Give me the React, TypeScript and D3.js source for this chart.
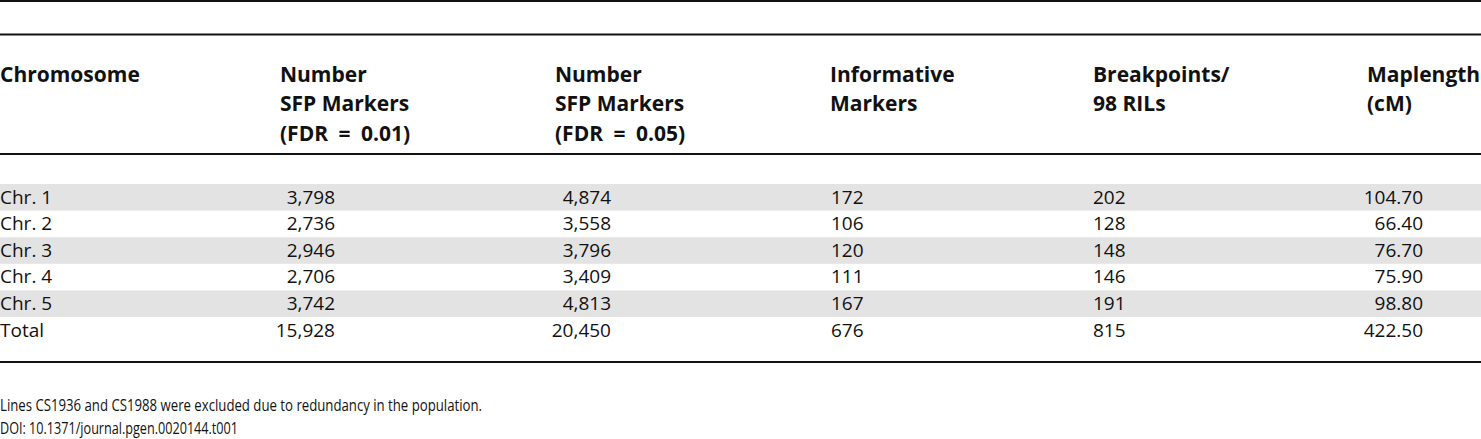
import { useEffect, useRef } from 'react';
import * as d3 from 'd3';

const chromosomes = ['Chr. 1', 'Chr. 2', 'Chr. 3', 'Chr. 4', 'Chr. 5', 'Total'];
const sfpFdr001 = [3798, 2736, 2946, 2706, 3742, 15928];
const sfpFdr005 = [4874, 3558, 3796, 3409, 4813, 20450];
const informativeMarkers = [172, 106, 120, 111, 167, 676];
const breakpoints = [202, 128, 148, 146, 191, 815];
const mapLength = [104.7, 66.4, 76.7, 75.9, 98.8, 422.5];

const headers = [
  ['Chromosome'],
  ['Number', 'SFP Markers', '(FDR\u2002=\u20020.01)'],
  ['Number', 'SFP Markers', '(FDR\u2002=\u20020.05)'],
  ['Informative', 'Markers'],
  ['Breakpoints/', '98 RILs'],
  ['Maplength', '(cM)'],
];

const footnotes = [
  'Lines CS1936 and CS1988 were excluded due to redundancy in the population.',
  'DOI: 10.1371/journal.pgen.0020144.t001',
];
// measured widths of the condensed footnote lines
const footnoteWidths = [482, 238];

const WIDTH = 1481;
const HEIGHT = 439;
const FONT = '"Open Sans", sans-serif';

export default function App() {
  const svgRef = useRef<SVGSVGElement>(null);

  useEffect(() => {
    if (!svgRef.current) return;
    const svg = d3.select(svgRef.current);
    svg.selectAll('*').remove();

    const fmtInt = d3.format(',');
    const fmtDec = d3.format('.2f');

    // column layout: header left x, value anchor x, value alignment
    const columns = [
      { head: 0, x: 0, anchor: 'start', values: chromosomes.map(String) },
      { head: 280, x: 335, anchor: 'end', values: sfpFdr001.map(fmtInt) },
      { head: 555, x: 611, anchor: 'end', values: sfpFdr005.map(fmtInt) },
      { head: 830, x: 831, anchor: 'start', values: informativeMarkers.map(String) },
      { head: 1093, x: 1093, anchor: 'start', values: breakpoints.map(String) },
      { head: 1367, x: 1423, anchor: 'end', values: mapLength.map(fmtDec) },
    ];

    const y = d3
      .scaleBand<number>()
      .domain(d3.range(chromosomes.length))
      .range([184, 184 + 26.6 * chromosomes.length])
      .padding(0);

    // Shaded rows
    svg
      .selectAll('rect.band')
      .data(d3.range(5).filter((i) => i % 2 === 0))
      .enter()
      .append('rect')
      .attr('class', 'band')
      .attr('x', 0)
      .attr('width', WIDTH)
      .attr('y', (i) => y(i) as number)
      .attr('height', y.bandwidth())
      .attr('fill', '#e3e3e3');

    // Rules
    const rules = [1, 34.5, 154, 362];
    svg
      .selectAll('line.rule')
      .data(rules)
      .enter()
      .append('line')
      .attr('x1', 0)
      .attr('x2', WIDTH)
      .attr('y1', (d) => d)
      .attr('y2', (d) => d)
      .attr('stroke', '#111')
      .attr('stroke-width', 2);

    // Header
    const head = svg
      .append('g')
      .style('font-family', FONT)
      .style('font-weight', 700)
      .style('font-size', '21px');
    headers.forEach((lines, c) => {
      lines.forEach((txt, li) => {
        head
          .append('text')
          .attr('x', columns[c].head)
          .attr('y', 82 + li * 29.3)
          .attr('fill', '#111')
          .text(txt);
      });
    });

    // Body cells
    const body = svg.append('g').style('font-family', FONT).style('font-size', '19px');
    columns.forEach((col) => {
      body
        .selectAll(null)
        .data(col.values)
        .enter()
        .append('text')
        .attr('x', col.x)
        .attr('y', (_, i) => (y(i) as number) + 19.5)
        .attr('text-anchor', col.anchor)
        .attr('fill', '#111')
        .text((d) => d);
    });

    // Footnotes (condensed face in the original)
    svg
      .append('g')
      .style('font-family', FONT)
      .style('font-size', '16px')
      .selectAll('text')
      .data(footnotes)
      .enter()
      .append('text')
      .attr('x', 0)
      .attr('y', (_, i) => 411 + i * 22.5)
      .attr('textLength', (_, i) => footnoteWidths[i])
      .attr('lengthAdjust', 'spacingAndGlyphs')
      .attr('fill', '#111')
      .text((d) => d);
  }, []);

  return (
    <svg
      ref={svgRef}
      width={WIDTH}
      height={HEIGHT}
      style={{ position: 'absolute', left: 0, top: 0, background: '#fff' }}
    />
  );
}
